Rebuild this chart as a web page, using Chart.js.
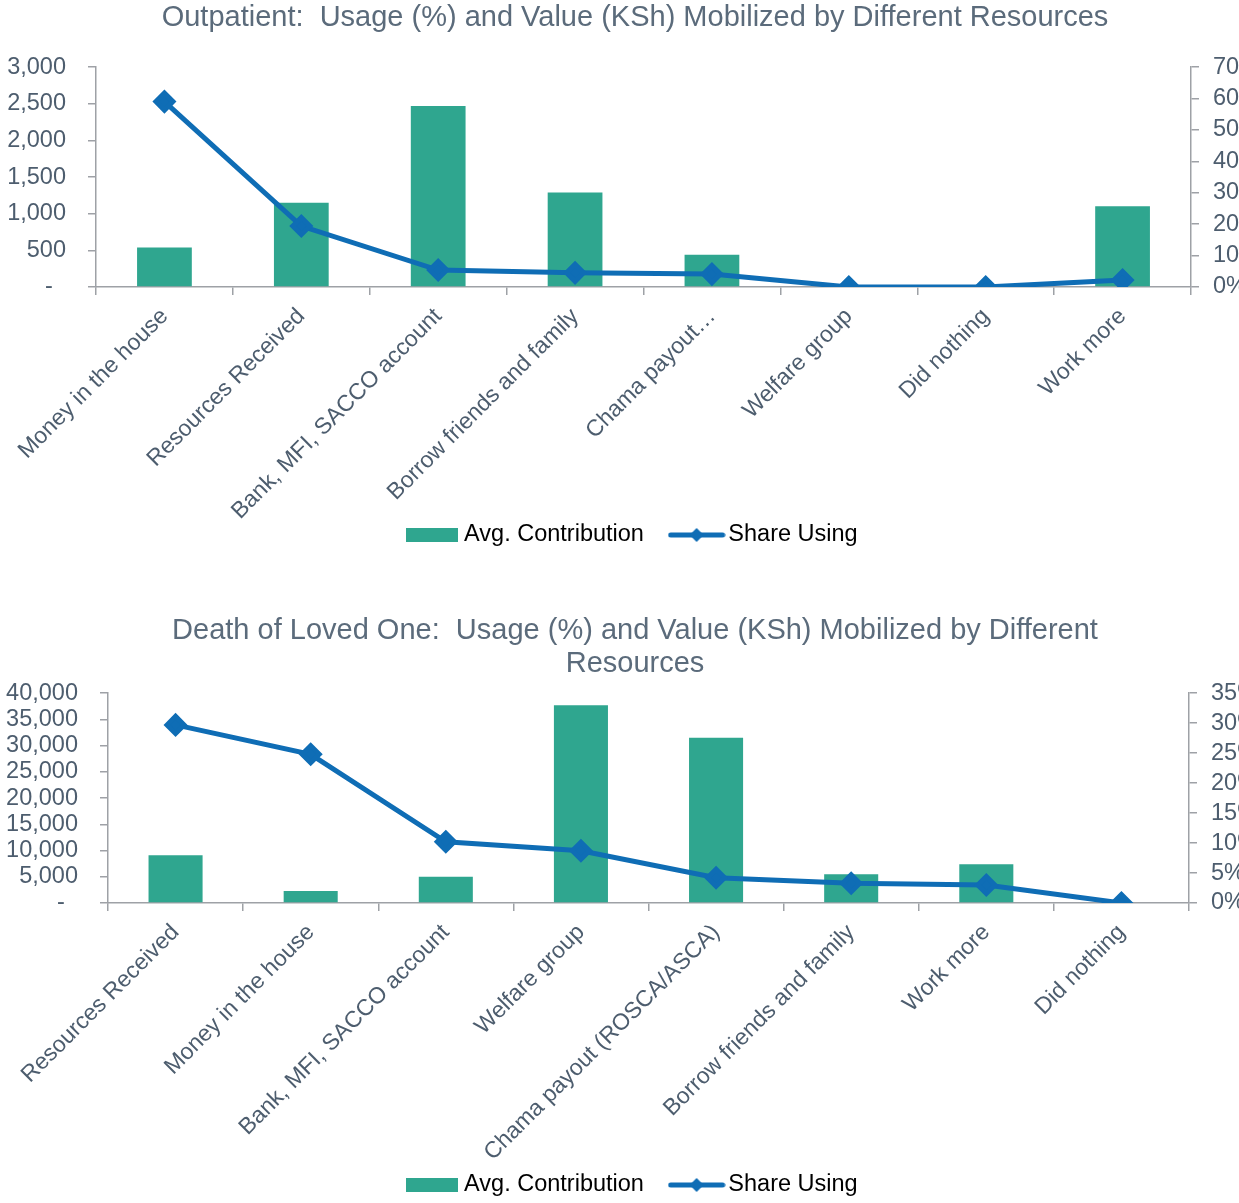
<!DOCTYPE html>
<html>
<head>
<meta charset="utf-8">
<script src="https://cdn.jsdelivr.net/npm/chart.js@4.4.1/dist/chart.umd.min.js"></script>
<style>
  body { margin: 0; background: #fff; overflow: hidden; }
  .wrap { position: relative; width: 1239px; overflow: hidden; }
  canvas { display: block; }
</style>
</head>
<body>
<div class="wrap" style="height:600px"><canvas id="outpatient-chart" width="1270" height="600"></canvas></div>
<div class="wrap" style="height:603px"><canvas id="death-chart" width="1270" height="610"></canvas></div>
<script>
// Outpatient
const outpatientLabels = [
  "Money in the house", "Resources Received", "Bank, MFI, SACCO account",
  "Borrow friends and family", "Chama payout…", "Welfare group",
  "Did nothing", "Work more",
];
const outpatientContribution = [540, 1150, 2470, 1290, 440, 0, 0, 1100];
const outpatientShare = [59, 19.4, 5.4, 4.5, 4.1, 0, 0, 2.2];

// Death of loved one
const deathLabels = [
  "Resources Received", "Money in the house", "Bank, MFI, SACCO account",
  "Welfare group", "Chama payout (ROSCA/ASCA)", "Borrow friends and family",
  "Work more", "Did nothing",
];
const deathContribution = [9100, 2300, 5000, 37700, 31500, 5500, 7400, 0];
const deathShare = [29.7, 24.8, 10.2, 8.7, 4.2, 3.3, 3.0, 0];

const BAR = "#2fa68f";
const LINE = "#0f6db5";
const AXIS = "#9ea1a6";
const TEXT = "#4d5d6e";
const FONT = "'Liberation Sans', Arial, sans-serif";

// legend swatches
const barSwatch = document.createElement("canvas");
barSwatch.width = 52; barSwatch.height = 14;
(() => {
  const c = barSwatch.getContext("2d");
  c.fillStyle = BAR;
  c.fillRect(0, 0, 52, 14);
})();
const lineSwatch = document.createElement("canvas");
lineSwatch.width = 58; lineSwatch.height = 16;
(() => {
  const c = lineSwatch.getContext("2d");
  c.strokeStyle = LINE;
  c.lineWidth = 5;
  c.lineCap = "round";
  c.beginPath(); c.moveTo(3, 8); c.lineTo(55, 8); c.stroke();
  c.fillStyle = LINE;
  c.beginPath(); c.moveTo(29, 1); c.lineTo(36, 8); c.lineTo(29, 15); c.lineTo(22, 8); c.closePath(); c.fill();
})();

function makeChart(canvas, cfg) {
  return new Chart(canvas, {
    type: "bar",
    data: {
      labels: cfg.labels,
      datasets: [
        {
          type: "bar",
          label: "Avg. Contribution",
          data: cfg.contribution,
          backgroundColor: BAR,
          yAxisID: "y",
          barPercentage: 0.4,
          categoryPercentage: 1,
          order: 2,
        },
        {
          type: "line",
          label: "Share Using",
          data: cfg.share,
          borderColor: LINE,
          backgroundColor: LINE,
          borderWidth: 5,
          pointStyle: "rectRot",
          pointRadius: 8.5,
          pointHoverRadius: 8.5,
          tension: 0,
          yAxisID: "y1",
          order: 1,
        },
      ],
    },
    options: {
      responsive: false,
      animation: false,
      devicePixelRatio: 1,
      layout: { padding: { top: 0, left: 0, right: 0, bottom: cfg.padBottom } },
      plugins: {
        title: {
          display: true,
          text: cfg.title,
          color: "#5b6b7b",
          font: { family: FONT, size: 29, weight: "normal", lineHeight: 1.14 },
          padding: cfg.titlePadding,
        },
        legend: {
          position: "bottom",
          labels: {
            usePointStyle: true,
            pointStyleWidth: 40,
            padding: 0,
            color: TEXT,
            font: { family: FONT, size: 23.5 },
            // trailing spaces give the gap between the two legend entries
            generateLabels: (chart) =>
              chart.data.datasets.map((ds, i) => ({
                text: i === 0 ? ds.label + "     " : ds.label,
                pointStyle: i === 0 ? barSwatch : lineSwatch,
                fillStyle: "transparent",
                strokeStyle: "transparent",
                lineWidth: 0,
                hidden: false,
                datasetIndex: i,
              })),
          },
        },
        tooltip: { enabled: false },
      },
      scales: {
        x: {
          afterFit: (s) => { s.height = cfg.xHeight; },
          grid: { drawOnChartArea: false, offset: true, tickLength: 8, color: AXIS, lineWidth: 1.5 },
          border: { color: AXIS, width: 1.5 },
          ticks: {
            autoSkip: false,
            minRotation: 45,
            maxRotation: 45,
            padding: 8,
            color: TEXT,
            font: { family: FONT, size: 23 },
          },
        },
        y: {
          position: "left",
          min: 0,
          max: cfg.leftMax,
          afterFit: (s) => { s.width = cfg.leftWidth; },
          grid: { drawOnChartArea: false, tickLength: 8, color: AXIS, lineWidth: 1.5 },
          border: { color: AXIS, width: 1.5 },
          ticks: {
            autoSkip: false,
            stepSize: cfg.leftStep,
            padding: 22,
            color: TEXT,
            font: { family: FONT, size: 23.5 },
            callback: (v) => (v === 0 ? "-  " : v.toLocaleString("en-US")),
          },
        },
        y1: {
          position: "right",
          min: 0,
          max: cfg.rightMax,
          afterFit: (s) => { s.width = cfg.rightWidth; },
          grid: { drawOnChartArea: false, tickLength: 8, color: AXIS, lineWidth: 1.5 },
          border: { color: AXIS, width: 1.5 },
          ticks: {
            autoSkip: false,
            stepSize: cfg.rightStep,
            padding: 14,
            color: TEXT,
            font: { family: FONT, size: 23.5 },
            callback: (v) => v + "%",
          },
        },
      },
    },
  });
}

makeChart(document.getElementById("outpatient-chart"), {
  title: "Outpatient:  Usage (%) and Value (KSh) Mobilized by Different Resources",
  titlePadding: { top: 1.5, bottom: 32.5 },
  labels: outpatientLabels,
  contribution: outpatientContribution,
  share: outpatientShare,
  leftMax: 3000, leftStep: 500,
  rightMax: 70, rightStep: 10,
  leftWidth: 96, rightWidth: 79,
  xHeight: 236.25, padBottom: 43.25,
});

makeChart(document.getElementById("death-chart"), {
  title: ["Death of Loved One:  Usage (%) and Value (KSh) Mobilized by Different", "Resources"],
  titlePadding: { top: 14.5, bottom: 12.5 },
  labels: deathLabels,
  contribution: deathContribution,
  share: deathShare,
  leftMax: 40000, leftStep: 5000,
  rightMax: 35, rightStep: 5,
  leftWidth: 108, rightWidth: 81,
  xHeight: 270.25, padBottom: 3.25,
});
</script>
</body>
</html>
